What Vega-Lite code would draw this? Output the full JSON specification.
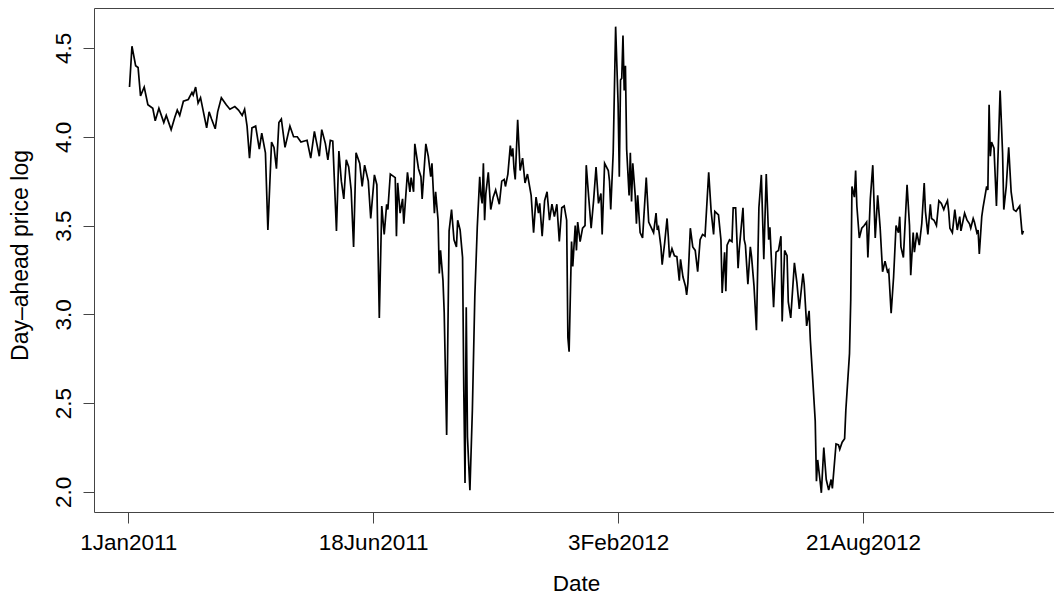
{
  "$schema": "https://vega.github.io/schema/vega-lite/v6.json",
  "width": 960,
  "height": 504,
  "autosize": {"type": "none"},
  "padding": {"left": 94, "top": 8, "right": 0, "bottom": 84},
  "background": "white",
  "config": {
    "view": {"stroke": "#444", "strokeWidth": 1},
    "font": "Liberation Sans"
  },
  "data": {
    "values": [
      {"i":1,"v":4.28},{"i":3,"v":4.51},{"i":6,"v":4.40},{"i":8,"v":4.39},{"i":10,"v":4.23},{"i":13,"v":4.28},{"i":16,"v":4.18},{"i":20,"v":4.16},{"i":22,"v":4.09},{"i":25,"v":4.16},{"i":29,"v":4.08},{"i":31,"v":4.12},{"i":35,"v":4.04},{"i":38,"v":4.11},{"i":40,"v":4.15},{"i":42,"v":4.12},{"i":45,"v":4.20},{"i":49,"v":4.21},{"i":52,"v":4.25},{"i":53,"v":4.235},{"i":55,"v":4.28},{"i":57,"v":4.19},{"i":59,"v":4.22},{"i":64,"v":4.05},{"i":66,"v":4.14},{"i":68,"v":4.10},{"i":71,"v":4.045},{"i":73,"v":4.14},
      {"i":76,"v":4.22},{"i":80,"v":4.18},{"i":83,"v":4.155},{"i":87,"v":4.17},{"i":90,"v":4.15},{"i":93,"v":4.12},{"i":95,"v":4.155},{"i":97,"v":4.06},{"i":99,"v":3.88},{"i":101,"v":4.05},{"i":104,"v":4.06},{"i":107,"v":3.93},{"i":109,"v":4.02},{"i":112,"v":3.91},{"i":114,"v":3.475},{"i":117,"v":3.97},{"i":119,"v":3.94},{"i":121,"v":3.82},{"i":123,"v":4.08},{"i":125,"v":4.10},{"i":128,"v":3.94},{"i":132,"v":4.06},{"i":135,"v":4.00},{"i":138,"v":4.00},{"i":141,"v":3.97},{"i":146,"v":3.98},{"i":149,"v":3.88},{"i":152,"v":4.03},{"i":154,"v":3.96},{"i":156,"v":3.89},{"i":158,"v":4.04},{"i":161,"v":3.96},{"i":163,"v":3.87},{"i":165,"v":3.98},{"i":167,"v":3.975},{"i":170,"v":3.47},{"i":172,"v":3.92},
      {"i":174,"v":3.75},{"i":176,"v":3.65},{"i":178,"v":3.87},{"i":180,"v":3.83},{"i":182,"v":3.70},{"i":184,"v":3.38},{"i":186,"v":3.91},{"i":189,"v":3.85},{"i":191,"v":3.72},{"i":193,"v":3.84},{"i":196,"v":3.75},{"i":198,"v":3.54},{"i":201,"v":3.785},{"i":203,"v":3.73},{"i":205,"v":2.98},{"i":207,"v":3.61},{"i":209,"v":3.45},{"i":211,"v":3.62},{"i":212,"v":3.59},{"i":214,"v":3.79},{"i":218,"v":3.77},{"i":219,"v":3.44},{"i":220,"v":3.74},{"i":222,"v":3.57},{"i":224,"v":3.65},{"i":225,"v":3.51},{"i":228,"v":3.80},{"i":230,"v":3.69},{"i":231,"v":3.77},{"i":233,"v":3.69},{"i":234,"v":3.96},{"i":237,"v":3.82},{"i":239,"v":3.775},{"i":240,"v":3.65},{"i":243,"v":3.96},{"i":245,"v":3.89},{"i":247,"v":3.775},{"i":248,"v":3.85},{"i":250,"v":3.57},{"i":251,"v":3.69},{"i":253,"v":3.53},{"i":254,"v":3.23},{"i":255,"v":3.36},{"i":257,"v":3.19},{"i":258,"v":3.01},{"i":260,"v":2.32},{"i":262,"v":3.47},{"i":264,"v":3.59},{"i":266,"v":3.42},{"i":268,"v":3.38},{"i":269,"v":3.53},
      {"i":271,"v":3.475},{"i":273,"v":3.32},{"i":274,"v":2.57},{"i":275,"v":2.05},{"i":276,"v":3.04},{"i":277,"v":2.31},{"i":279,"v":2.01},{"i":281,"v":2.46},{"i":283,"v":3.10},{"i":285,"v":3.49},{"i":287,"v":3.775},{"i":288,"v":3.67},{"i":289,"v":3.625},{"i":290,"v":3.85},{"i":291,"v":3.53},{"i":292,"v":3.68},{"i":294,"v":3.80},{"i":296,"v":3.59},{"i":298,"v":3.66},{"i":300,"v":3.70},{"i":303,"v":3.62},{"i":305,"v":3.75},{"i":307,"v":3.76},{"i":308,"v":3.72},{"i":310,"v":3.79},{"i":312,"v":3.95},{"i":313,"v":3.89},{"i":314,"v":3.935},{"i":315,"v":3.82},{"i":316,"v":3.76},{"i":318,"v":4.095},{"i":320,"v":3.81},{"i":322,"v":3.88},{"i":324,"v":3.74},{"i":326,"v":3.79},{"i":329,"v":3.67},{"i":331,"v":3.46},{"i":333,"v":3.66},{"i":335,"v":3.57},{"i":336,"v":3.625},{"i":338,"v":3.44},{"i":340,"v":3.64},{"i":342,"v":3.69},{"i":344,"v":3.53},{"i":346,"v":3.62},{"i":348,"v":3.55},{"i":350,"v":3.62},{"i":352,"v":3.41},{"i":354,"v":3.60},{"i":356,"v":3.61},{"i":358,"v":3.53},{"i":359,"v":2.87},{"i":360,"v":2.79},{"i":362,"v":3.41},{"i":363,"v":3.27},{"i":365,"v":3.50},{"i":366,"v":3.36},{"i":367,"v":3.52},
      {"i":369,"v":3.41},{"i":371,"v":3.485},{"i":373,"v":3.50},{"i":374,"v":3.84},{"i":376,"v":3.66},{"i":378,"v":3.485},{"i":380,"v":3.64},{"i":382,"v":3.83},{"i":384,"v":3.625},{"i":386,"v":3.68},{"i":387,"v":3.45},{"i":389,"v":3.85},{"i":392,"v":3.81},{"i":393,"v":3.75},{"i":394,"v":3.59},{"i":396,"v":3.91},{"i":398,"v":4.62},{"i":400,"v":4.19},{"i":401,"v":3.775},{"i":402,"v":4.32},{"i":403,"v":4.33},{"i":404,"v":4.57},{"i":405,"v":4.26},{"i":406,"v":4.40},{"i":407,"v":3.93},{"i":409,"v":3.67},{"i":410,"v":3.91},{"i":411,"v":3.635},{"i":412,"v":3.85},{"i":414,"v":3.67},{"i":415,"v":3.51},{"i":416,"v":3.67},{"i":418,"v":3.46},{"i":420,"v":3.43},{"i":423,"v":3.77},{"i":425,"v":3.52},{"i":427,"v":3.49},{"i":429,"v":3.46},{"i":431,"v":3.57},{"i":432,"v":3.475},{"i":433,"v":3.49},{"i":435,"v":3.38},{"i":436,"v":3.28},{"i":438,"v":3.40},{"i":440,"v":3.54},{"i":441,"v":3.44},{"i":442,"v":3.32},{"i":444,"v":3.37},{"i":446,"v":3.33},{"i":448,"v":3.325},{"i":450,"v":3.19},{"i":451,"v":3.31},{"i":453,"v":3.21},{"i":455,"v":3.16},{"i":456,"v":3.11},{"i":457,"v":3.175},{"i":459,"v":3.485},{"i":461,"v":3.38},{"i":463,"v":3.36},{"i":465,"v":3.24},{"i":467,"v":3.42},
      {"i":469,"v":3.45},{"i":471,"v":3.44},{"i":474,"v":3.80},{"i":476,"v":3.58},{"i":478,"v":3.45},{"i":479,"v":3.58},{"i":482,"v":3.56},{"i":484,"v":3.42},{"i":485,"v":3.12},{"i":487,"v":3.35},{"i":488,"v":3.13},{"i":489,"v":3.39},{"i":491,"v":3.42},{"i":493,"v":3.41},{"i":494,"v":3.60},{"i":496,"v":3.60},{"i":498,"v":3.26},{"i":499,"v":3.37},{"i":502,"v":3.60},{"i":503,"v":3.42},{"i":504,"v":3.39},{"i":506,"v":3.17},{"i":508,"v":3.38},{"i":509,"v":3.325},{"i":511,"v":3.16},{"i":513,"v":2.91},{"i":515,"v":3.60},{"i":517,"v":3.785},{"i":519,"v":3.31},{"i":521,"v":3.79},{"i":523,"v":3.42},{"i":524,"v":3.49},{"i":527,"v":3.04},{"i":529,"v":3.35},{"i":531,"v":3.36},{"i":533,"v":3.44},{"i":534,"v":2.96},{"i":536,"v":3.36},{"i":538,"v":3.33},{"i":539,"v":3.07},{"i":541,"v":2.98},{"i":544,"v":3.29},{"i":546,"v":3.18},{"i":548,"v":3.03},{"i":551,"v":3.23},{"i":552,"v":3.17},{"i":554,"v":2.935},{"i":556,"v":3.02},{"i":557,"v":2.856},
      {"i":559,"v":2.63},{"i":561,"v":2.40},{"i":562,"v":2.06},{"i":563,"v":2.18},{"i":565,"v":2.06},{"i":566,"v":1.995},{"i":568,"v":2.25},{"i":570,"v":2.07},{"i":572,"v":2.01},{"i":574,"v":2.07},{"i":575,"v":2.02},{"i":578,"v":2.27},{"i":580,"v":2.265},{"i":581,"v":2.24},{"i":583,"v":2.28},{"i":585,"v":2.30},{"i":586,"v":2.46},{"i":589,"v":2.78},{"i":590,"v":3.08},{"i":591,"v":3.72},{"i":593,"v":3.66},{"i":594,"v":3.81},{"i":595,"v":3.61},{"i":597,"v":3.43},{"i":599,"v":3.485},{"i":601,"v":3.50},{"i":603,"v":3.52},{"i":604,"v":3.32},{"i":606,"v":3.65},{"i":608,"v":3.84},{"i":610,"v":3.43},{"i":612,"v":3.67},{"i":614,"v":3.49},{"i":616,"v":3.24},{"i":618,"v":3.30},{"i":620,"v":3.24},{"i":621,"v":3.25},{"i":623,"v":3.006},{"i":625,"v":3.21},{"i":627,"v":3.50},{"i":629,"v":3.46},{"i":630,"v":3.55},{"i":631,"v":3.38},{"i":633,"v":3.32},{"i":636,"v":3.73},{"i":638,"v":3.50},{"i":639,"v":3.22},{"i":641,"v":3.46},{"i":642,"v":3.35},{"i":644,"v":3.46},{"i":646,"v":3.39},{"i":648,"v":3.51},{"i":650,"v":3.74},{"i":651,"v":3.58},{"i":653,"v":3.45},{"i":655,"v":3.62},
      {"i":656,"v":3.54},{"i":658,"v":3.53},{"i":660,"v":3.50},{"i":662,"v":3.64},{"i":664,"v":3.625},{"i":666,"v":3.59},{"i":667,"v":3.61},{"i":669,"v":3.64},{"i":670,"v":3.58},{"i":671,"v":3.485},{"i":673,"v":3.46},{"i":675,"v":3.59},{"i":677,"v":3.475},{"i":679,"v":3.55},{"i":680,"v":3.47},{"i":683,"v":3.57},{"i":685,"v":3.53},{"i":687,"v":3.51},{"i":688,"v":3.485},{"i":690,"v":3.54},{"i":691,"v":3.52},{"i":693,"v":3.46},{"i":694,"v":3.475},{"i":695,"v":3.34},{"i":697,"v":3.55},{"i":698,"v":3.60},{"i":701,"v":3.72},{"i":702,"v":3.70},{"i":703,"v":4.18},{"i":704,"v":3.89},{"i":705,"v":3.97},{"i":707,"v":3.935},{"i":708,"v":3.775},{"i":709,"v":3.61},{"i":710,"v":3.83},{"i":712,"v":4.26},{"i":714,"v":3.91},{"i":715,"v":3.59},{"i":717,"v":3.72},{"i":719,"v":3.94},{"i":721,"v":3.69},{"i":723,"v":3.59},{"i":725,"v":3.58},{"i":726,"v":3.59},{"i":728,"v":3.61},{"i":730,"v":3.45},{"i":731,"v":3.47}
    ]
  },
  "mark": {"type": "line", "color": "black", "strokeWidth": 1.7, "clip": true},
  "encoding": {
    "x": {
      "field": "i",
      "type": "quantitative",
      "scale": {"domain": [-28, 756], "nice": false, "zero": false},
      "axis": {
        "values": [0, 200, 400, 600],
        "labelExpr": "datum.value == 0 ? '1Jan2011' : datum.value == 200 ? '18Jun2011' : datum.value == 400 ? '3Feb2012' : '21Aug2012'",
        "title": "Date",
        "grid": false,
        "domain": false,
        "tickSize": 11,
        "tickColor": "#444",
        "labelFont": "Liberation Sans",
        "labelFontSize": 22.5,
        "labelColor": "black",
        "labelPadding": 8,
        "labelFlush": false,
        "labelOverlap": false,
        "titleFont": "Liberation Sans",
        "titleFontSize": 22.5,
        "titleFontWeight": "normal",
        "titleColor": "black",
        "titleY": 78,
        "titleX": 482,
        "titleBaseline": "alphabetic"
      }
    },
    "y": {
      "field": "v",
      "type": "quantitative",
      "scale": {"domain": [1.887, 4.725], "nice": false, "zero": false},
      "axis": {
        "values": [2, 2.5, 3, 3.5, 4, 4.5],
        "format": ".1f",
        "title": "Day\u2013ahead price log",
        "grid": false,
        "domain": false,
        "tickSize": 11,
        "tickColor": "#444",
        "labelFont": "Liberation Sans",
        "labelFontSize": 22.5,
        "labelColor": "black",
        "labelAngle": 270,
        "labelAlign": "center",
        "labelBaseline": "bottom",
        "labelPadding": 8,
        "labelFlush": false,
        "labelOverlap": false,
        "titleFont": "Liberation Sans",
        "titleFontSize": 23,
        "titleFontWeight": "normal",
        "titleColor": "black",
        "titleAngle": 270,
        "titleAlign": "center",
        "titleBaseline": "alphabetic",
        "titleX": -67,
        "titleY": 247
      }
    }
  }
}
